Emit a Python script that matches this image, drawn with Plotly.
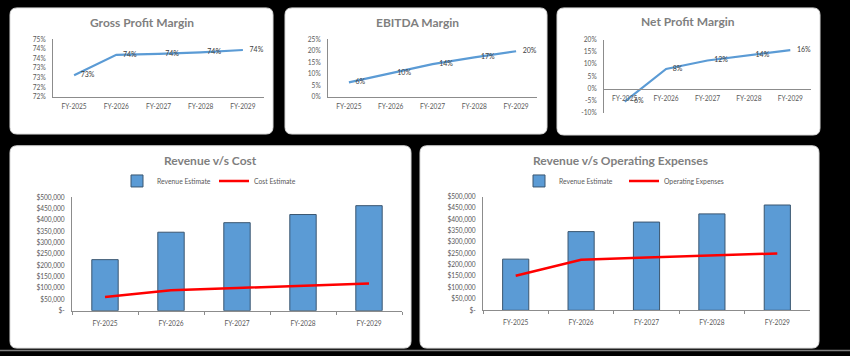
import plotly.graph_objects as go

# ---------------- data ----------------
years = ["FY-2025", "FY-2026", "FY-2027", "FY-2028", "FY-2029"]
gross_margin = [73.13, 74.19, 74.24, 74.32, 74.44]
ebitda_margin = [6.3, 10.4, 14.2, 17.1, 19.8]
net_margin = [-5.5, 8.0, 11.5, 13.8, 15.8]
revenue = [225000, 346000, 388000, 424000, 463000]
cost = [60000, 90000, 100000, 111000, 120000]
opex = [152000, 222000, 232000, 241000, 250000]

gross_tickvals = [72.0, 72.5, 73.0, 73.5, 74.0, 74.5, 75.0]
gross_ticktext = ["72%", "72%", "73%", "73%", "74%", "74%", "75%"]
ebitda_tickvals = [0, 5, 10, 15, 20, 25]
ebitda_ticktext = ["0%", "5%", "10%", "15%", "20%", "25%"]
net_tickvals = [-10, -5, 0, 5, 10, 15, 20]
net_ticktext = ["-10%", "-5%", "0%", "5%", "10%", "15%", "20%"]
money_tickvals = [0, 50000, 100000, 150000, 200000, 250000, 300000, 350000, 400000, 450000, 500000]
money_ticktext = ["$-", "$50,000", "$100,000", "$150,000", "$200,000", "$250,000",
                  "$300,000", "$350,000", "$400,000", "$450,000", "$500,000"]

# ---------------- style ----------------
W, H = 850, 356
FONT = "Lato, 'Liberation Sans', sans-serif"
BLUE = "#5B9BD5"
RED = "#FF0000"
AXIS = "#8C8C8C"
TICKC = "#595959"
TITLEC = "#7F7F7F"


def fx(px):
    return px / W


def fy(py):
    return 1 - py / H


def rounded(x0, y0, x1, y1, r=7):
    X, Y = fx, fy
    return (f"M {X(x0 + r)},{Y(y0)} L {X(x1 - r)},{Y(y0)} Q {X(x1)},{Y(y0)} {X(x1)},{Y(y0 + r)} "
            f"L {X(x1)},{Y(y1 - r)} Q {X(x1)},{Y(y1)} {X(x1 - r)},{Y(y1)} "
            f"L {X(x0 + r)},{Y(y1)} Q {X(x0)},{Y(y1)} {X(x0)},{Y(y1 - r)} "
            f"L {X(x0)},{Y(y0 + r)} Q {X(x0)},{Y(y0)} {X(x0 + r)},{Y(y0)} Z")


def pct_labels(vals):
    return [f"{round(v)}%" for v in vals]


fig = go.Figure()

# margin line charts
for i, vals in zip(["", "2", "3"], [gross_margin, ebitda_margin, net_margin]):
    fig.add_trace(go.Scatter(
        x=years, y=vals, mode="lines+markers+text", text=pct_labels(vals),
        textposition="middle right", cliponaxis=False,
        textfont=dict(size=7, color="#404040", family=FONT),
        marker=dict(size=9, opacity=0, color=BLUE),
        line=dict(color=BLUE, width=2.2), showlegend=False,
        xaxis="x" + i, yaxis="y" + i))

# revenue vs cost
fig.add_trace(go.Bar(x=years, y=revenue, name="Revenue Estimate",
                     marker=dict(color=BLUE, line=dict(color="#3A5670", width=1)),
                     xaxis="x4", yaxis="y4", legend="legend"))
fig.add_trace(go.Scatter(x=years, y=cost, name="Cost Estimate", mode="lines",
                         line=dict(color=RED, width=2.5), xaxis="x4", yaxis="y4", legend="legend"))
# revenue vs opex
fig.add_trace(go.Bar(x=years, y=revenue, name="Revenue Estimate",
                     marker=dict(color=BLUE, line=dict(color="#3A5670", width=1)),
                     xaxis="x5", yaxis="y5", legend="legend2"))
fig.add_trace(go.Scatter(x=years, y=opex, name="Operating Expenses", mode="lines",
                         line=dict(color=RED, width=2.5), xaxis="x5", yaxis="y5", legend="legend2"))

tickfont = dict(size=6.6, color=TICKC, family=FONT)
common_x = dict(type="category", range=[-0.5, 4.5], showline=True, linecolor=AXIS, linewidth=1,
                showgrid=False, zeroline=False, tickfont=tickfont, fixedrange=True,
                ticklabelstandoff=3)
common_y = dict(showline=True, linecolor=AXIS, linewidth=1, showgrid=False, zeroline=False,
                tickfont=tickfont, fixedrange=True, ticks="", ticklabelstandoff=5)
bottom_x = dict(common_x, ticks="outside", tickson="boundaries", ticklen=3, tickcolor=AXIS,
                ticklabelstandoff=6)
legfont = dict(size=6.8, color=TICKC, family=FONT)

layout = dict(
    width=W, height=H, margin=dict(l=0, r=0, t=0, b=0),
    paper_bgcolor="black", plot_bgcolor="white",
    font=dict(family=FONT), bargap=0.6,
    xaxis=dict(common_x, domain=[fx(53), fx(264)], anchor="y"),
    yaxis=dict(common_y, domain=[fy(94), fy(35)], range=[72, 75], anchor="x",
               tickvals=gross_tickvals, ticktext=gross_ticktext),
    xaxis2=dict(common_x, domain=[fx(328), fx(537)], anchor="y2"),
    yaxis2=dict(common_y, domain=[fy(94), fy(35)], range=[0, 25], anchor="x2",
                tickvals=ebitda_tickvals, ticktext=ebitda_ticktext),
    xaxis3=dict(common_x, domain=[fx(604), fx(811)], anchor="free", position=fy(85.7)),
    yaxis3=dict(common_y, domain=[fy(110), fy(35.7)], range=[-10, 20], anchor="x3",
                tickvals=net_tickvals, ticktext=net_ticktext),
    xaxis4=dict(bottom_x, domain=[fx(72), fx(402)], anchor="y4"),
    yaxis4=dict(common_y, domain=[fy(312.7), fy(196.7)], range=[0, 500000], anchor="x4",
                tickvals=money_tickvals, ticktext=money_ticktext),
    xaxis5=dict(bottom_x, domain=[fx(483), fx(810)], anchor="y5"),
    yaxis5=dict(common_y, domain=[fy(312.3), fy(196)], range=[0, 500000], anchor="x5",
                tickvals=money_tickvals, ticktext=money_ticktext),
    legend=dict(x=fx(214), y=fy(180), xanchor="center", yanchor="middle", orientation="h",
                font=legfont, bgcolor="rgba(0,0,0,0)", entrywidth=52, itemwidth=30),
    legend2=dict(x=fx(624), y=fy(180), xanchor="center", yanchor="middle", orientation="h",
                 font=legfont, bgcolor="rgba(0,0,0,0)", entrywidth=60, itemwidth=30),
)
fig.update_layout(**layout)

# panels
panels = [(10, 3, 273, 132), (285, 3, 547, 132), (557, 3, 820, 133),
          (10, 144, 411, 351), (420, 144, 819, 351)]
shapes = [dict(type="path", path=rounded(*p), xref="paper", yref="paper", layer="below",
               fillcolor="white", line=dict(color="#D9D9D9", width=1)) for p in panels]
shapes.append(dict(type="line", xref="paper", yref="paper", x0=0, x1=1, y0=fy(353.5), y1=fy(353.5),
                   line=dict(color="#7F7F7F", width=1.5), layer="below"))
fig.update_layout(shapes=shapes)

titles = [("Gross Profit Margin", 142, 18), ("EBITDA Margin", 417, 18), ("Net Profit Margin", 688, 17),
          ("Revenue v/s Cost", 210, 159), ("Revenue v/s Operating Expenses", 620, 159)]
for t, x, y in titles:
    fig.add_annotation(text=f"<b>{t}</b>", x=fx(x), y=fy(y), xref="paper", yref="paper",
                       showarrow=False, xanchor="center", yanchor="middle",
                       font=dict(size=12, color=TITLEC, family=FONT))

fig.write_html("out.html", config={"displayModeBar": False},
               post_script="document.body.style.margin='0';document.body.style.background='black';")
